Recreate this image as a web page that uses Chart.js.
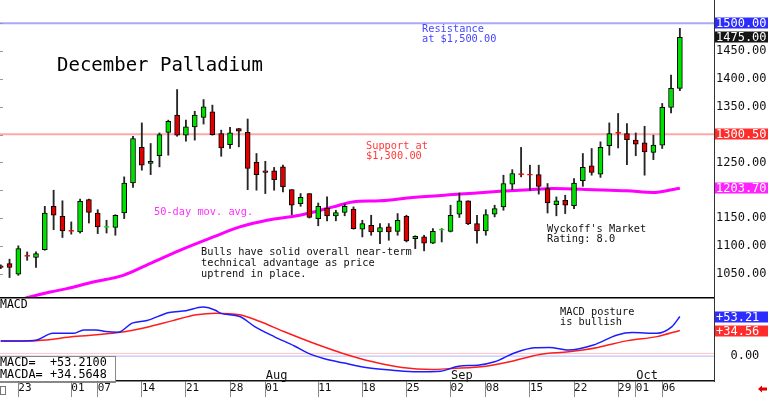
<!DOCTYPE html>
<html>
<head>
<meta charset="utf-8">
<script src="https://cdn.jsdelivr.net/npm/chart.js@4.4.1/dist/chart.umd.min.js"></script>
<style>
  html, body { margin: 0; padding: 0; background: #fff; overflow: hidden; }
  #wrap { position: relative; width: 768px; height: 397px; }
  #priceChart { position: absolute; left: 0; top: 0; }
  #macdChart { position: absolute; left: 0; top: 297px; }
</style>
</head>
<body>
<div id="wrap">
  <canvas id="priceChart" width="768" height="297"></canvas>
  <canvas id="macdChart" width="768" height="100"></canvas>
</div>
<script>
// trading days shown on the chart
const dates = ['Jun 19','Jun 20','Jun 23','Jun 24','Jun 25','Jun 26','Jun 27','Jun 30',
  'Jul 01','Jul 02','Jul 03','Jul 07','Jul 08','Jul 09','Jul 10','Jul 11','Jul 14','Jul 15','Jul 16','Jul 17','Jul 18',
  'Jul 21','Jul 22','Jul 23','Jul 24','Jul 25','Jul 28','Jul 29','Jul 30','Jul 31',
  'Aug 01','Aug 04','Aug 05','Aug 06','Aug 07','Aug 08','Aug 11','Aug 12','Aug 13','Aug 14','Aug 15',
  'Aug 18','Aug 19','Aug 20','Aug 21','Aug 22','Aug 25','Aug 26','Aug 27','Aug 28','Aug 29',
  'Sep 02','Sep 03','Sep 04','Sep 05','Sep 08','Sep 09','Sep 10','Sep 11','Sep 12','Sep 15','Sep 16','Sep 17','Sep 18','Sep 19',
  'Sep 22','Sep 23','Sep 24','Sep 25','Sep 26','Sep 29','Sep 30',
  'Oct 01','Oct 02','Oct 03','Oct 06','Oct 07','Oct 08'];

// daily OHLC
const open  = [1064,1068,1049,1083,1079,1093,1171,1153,1128,1125, 1183,1159,1133,1133,1159,1213,1277,1248,1262,1304,
               1335,1299,1314,1331,1341,1302,1282,1311,1304,1250, 1235,1235,1242,1201,1176,1194,1149,1168,1154,1160,
               1166,1130,1137,1125,1134,1126,1153,1113,1116,1105, 1128,1126,1157,1181,1140,1127,1157,1170,1211,1230,
               1229,1228,1203,1174,1182,1172,1217,1244,1229,1280, 1304,1302,1290,1285,1268,1281,1349,1383];
const high  = [1066,1076,1100,1089,1089,1171,1200,1181,1143,1184, 1184,1165,1146,1156,1224,1297,1321,1284,1303,1326,
               1381,1326,1342,1363,1353,1308,1313,1311,1328,1266, 1252,1241,1245,1201,1194,1194,1177,1188,1164,1175,
               1170,1146,1155,1140,1140,1158,1155,1118,1119,1131, 1131,1173,1195,1181,1155,1165,1173,1227,1237,1277,
               1245,1245,1212,1188,1191,1221,1266,1275,1287,1321, 1338,1320,1303,1315,1299,1356,1407,1491];
const low   = [1059,1043,1047,1074,1061,1092,1129,1115,1121,1123, 1141,1122,1123,1119,1149,1205,1236,1228,1242,1263,
               1297,1288,1290,1319,1299,1261,1275,1278,1201,1200, 1194,1200,1197,1156,1171,1150,1136,1145,1145,1154,
               1130,1116,1119,1104,1110,1119,1107,1095,1091,1104, 1107,1125,1151,1138,1105,1119,1152,1164,1201,1224,
               1200,1193,1159,1154,1158,1167,1207,1227,1223,1263, 1276,1246,1262,1227,1255,1275,1339,1379];
const close = [1061,1061,1095,1081,1086,1159,1155,1127,1126,1180, 1160,1134,1135,1155,1213,1293,1245,1252,1300,1324,
               1299,1314,1335,1350,1300,1276,1303,1306,1239,1228, 1232,1219,1206,1173,1187,1151,1171,1154,1160,1171,
               1131,1140,1125,1133,1125,1146,1109,1117,1105,1126, 1130,1155,1181,1140,1127,1156,1167,1212,1230,1228,
               1227,1207,1177,1181,1173,1213,1241,1232,1277,1302, 1302,1291,1283,1269,1281,1349,1383,1475];

// 50-day moving average (read at day positions)
const maIdx = [2, 3.3, 5.6, 7.5, 10.5, 13.9, 16.9, 20.3, 24.1, 27.1, 30.2, 33.9, 37.7, 39.9, 43.0, 46.7, 52.1, 56.6, 60.0, 62.6, 67.2, 71.0, 74.0, 75.5, 77.0];
const maVal = [1002, 1008, 1017, 1023, 1035, 1047, 1068, 1092, 1116, 1134, 1146, 1155, 1170, 1179, 1181, 1187, 1193, 1198, 1201, 1203, 1201, 1199, 1196, 1199, 1203.7];

// MACD and its average
const macdIdx = [0, 2.1, 4.1, 5.9, 8.3, 9.4, 10.8, 11.9, 13.3, 14.9, 16.6, 19.1, 21.0, 22.9, 24.4, 24.9, 27.1, 28.8, 31.0, 33.3,
                 34.9, 36.6, 38.8, 41.6, 44.4, 47.2, 49.9, 51.9, 54.1, 56.0, 58.3, 60.5, 62.2, 64.4, 67.2, 69.9, 71.6, 74.4, 76.1, 77.0];
const macdVal = [20.3, 20.3, 21.7, 30.7, 30.7, 35.2, 35.2, 33.0, 32.1, 44.3, 47.9, 58.7, 61.0, 66.0, 61.4, 57.8, 53.3, 39.7, 26.2, 13.6,
                 3.6, -3.2, -9.0, -15.8, -19.0, -21.2, -20.3, -13.6, -12.2, -7.7, 4.5, 11.3, 11.7, 8.1, 14.9, 28.5, 31.6, 30.7, 39.7, 53.21];
const signalIdx = [0, 4.1, 8.3, 13.3, 16.6, 19.4, 22.2, 24.4, 27.1, 29.4, 32.1, 35.5, 38.8, 42.2, 45.5, 48.8, 51.1, 55.0, 57.7, 61.1, 64.4, 67.7, 71.1, 74.4, 77.0];
const signalVal = [20.3, 20.8, 26.2, 31.6, 38.9, 47.4, 55.6, 57.8, 55.6, 46.5, 33.0, 17.2, 3.6, -7.7, -15.4, -18.1, -16.7, -13.6, -7.7, 2.3, 5.9, 11.7, 20.8, 26.2, 34.5648];

const priceTicks = [1050, 1100, 1150, 1250, 1350, 1400, 1450];
const dateTicks = ['Jun 23','Jul 01','Jul 07','Jul 14','Jul 21','Jul 28','Aug 01','Aug 11','Aug 18','Aug 25',
                   'Sep 02','Sep 08','Sep 15','Sep 22','Sep 29','Oct 01','Oct 06'];
const monthTicks = [['Aug 01', 'Aug'], ['Sep 02', 'Sep'], ['Oct 01', 'Oct']];
const resistance = 1500;
const support = 1300.5;
const lastMA = 1203.7;

const xMin = -0.08, xMax = 80.87;
const FONT = '"DejaVu Sans Mono", "Liberation Mono", monospace';

const bodyData = [], wickData = [], bodyFill = [], bodyEdge = [];
for (let i = 0; i < dates.length; i++) {
  const up = close[i] >= open[i];
  const doji = Math.abs(close[i] - open[i]) <= 2;
  bodyData.push({ x: i, y: [Math.min(open[i], close[i]), Math.max(open[i], close[i])] });
  wickData.push({ x: i, y: [low[i], high[i]] });
  bodyFill.push(up ? '#00e000' : '#e00000');
  bodyEdge.push(doji ? (up ? '#40e040' : '#ff2020') : '#000');
}

// axes take a fixed size and no label padding
function fixY(s) { s.width = 54; s.paddingTop = 0; s.paddingBottom = 0; }
function fixX(s) { s.height = 16; s.paddingLeft = 0; s.paddingRight = 0; }

function drawText(ctx, lines, x, y, color, size, step) {
  ctx.fillStyle = color;
  ctx.font = size + 'px ' + FONT;
  ctx.textAlign = 'left';
  ctx.textBaseline = 'middle';
  lines.forEach((s, i) => ctx.fillText(s, x, y + i * step));
}

function valueBox(ctx, x, y, text, bg) {
  const yy = Math.round(y);
  ctx.fillStyle = bg;
  ctx.fillRect(x, yy - 5.5, 768 - x, 11);
  ctx.fillStyle = '#fff';
  ctx.font = '12px ' + FONT;
  ctx.textAlign = 'left';
  ctx.textBaseline = 'middle';
  ctx.fillText(text, x + 1, yy + 0.5);
}

// price pane overlay: labels and notes
const priceOverlay = {
  id: 'priceOverlay',
  afterDraw(chart) {
    const { ctx, chartArea } = chart;
    const y = chart.scales.y;
    ctx.save();
    ctx.strokeStyle = '#999';
    ctx.lineWidth = 1;
    for (let v = 1050; v <= 1500; v += 50) {
      const py = Math.round(y.getPixelForValue(v)) + 0.5;
      ctx.beginPath(); ctx.moveTo(0, py); ctx.lineTo(3, py); ctx.stroke();
    }
    const bx = chartArea.right + 1;
    valueBox(ctx, bx, y.getPixelForValue(resistance), resistance.toFixed(2), '#2c2cff');
    valueBox(ctx, bx, y.getPixelForValue(close[close.length - 1]), close[close.length - 1].toFixed(2), '#151515');
    valueBox(ctx, bx, y.getPixelForValue(support), support.toFixed(2), '#ff2c2c');
    valueBox(ctx, bx, y.getPixelForValue(lastMA), lastMA.toFixed(2), '#ff22ff');

    drawText(ctx, ['December Palladium'], 57, 66, '#000', 19, 0);
    drawText(ctx, ['Resistance', 'at $1,500.00'], 422, 29, '#4646ff', 10.3, 10.3);
    drawText(ctx, ['Support at', '$1,300.00'], 366, 146, '#ff3a3a', 10.3, 10.3);
    drawText(ctx, ['50-day mov. avg.'], 154, 212, '#ff30ff', 10.3, 0);
    drawText(ctx, ['Bulls have solid overall near-term', 'technical advantage as price', 'uptrend in place.'], 201, 252.5, '#111', 10.3, 10.8);
    drawText(ctx, ["Wyckoff's Market", 'Rating: 8.0'], 547, 229.5, '#111', 10.3, 10.3);
    ctx.restore();
  }
};

// MACD pane overlay
const macdOverlay = {
  id: 'macdOverlay',
  afterDraw(chart) {
    const { ctx, chartArea } = chart;
    const x = chart.scales.x, y = chart.scales.y;
    ctx.save();
    ctx.strokeStyle = '#000';
    ctx.lineWidth = 1.5;
    ctx.beginPath(); ctx.moveTo(0, 0.75); ctx.lineTo(chartArea.right, 0.75); ctx.stroke();

    drawText(ctx, ['MACD'], 0, 8.5, '#000', 11.5, 0);
    drawText(ctx, ['MACD posture', 'is bullish'], 560, 15.5, '#111', 10.3, 10.3);
    monthTicks.forEach(([d, name]) => {
      drawText(ctx, [name], x.getPixelForValue(dates.indexOf(d)) + 0.5, 78.5, '#111', 12, 0);
    });

    // readout box
    ctx.fillStyle = '#fff';
    ctx.fillRect(0, 59.5, 116, 24.5);
    ctx.strokeStyle = '#888';
    ctx.lineWidth = 1;
    ctx.strokeRect(-1, 59.5, 116.5, 26);
    drawText(ctx, ['MACD=', 'MACDA='], 0, 66, '#000', 11.8, 11.6);
    drawText(ctx, ['+53.2100', '+34.5648'], 50, 66, '#000', 11.8, 11.6);

    const bx = chartArea.right + 1;
    valueBox(ctx, bx, y.getPixelForValue(53.21), '+53.21', '#2c2cff');
    valueBox(ctx, bx, y.getPixelForValue(34.5648) + 1, '+34.56', '#ff2c2c');

    ctx.strokeStyle = '#777';
    ctx.strokeRect(0.5, 89.5, 5, 8);
    ctx.fillStyle = '#e00000';
    ctx.beginPath();
    ctx.moveTo(758, 92); ctx.lineTo(762, 88.5); ctx.lineTo(762, 90.5); ctx.lineTo(767, 90.5);
    ctx.lineTo(767, 93.5); ctx.lineTo(762, 93.5); ctx.lineTo(762, 95.5); ctx.closePath(); ctx.fill();
    ctx.restore();
  }
};

// Price chart
new Chart(document.getElementById('priceChart'), {
  type: 'bar',
  data: {
    datasets: [
      { label: 'Body', data: bodyData, backgroundColor: bodyFill, borderColor: bodyEdge, borderWidth: 1,
        borderSkipped: false, barThickness: 5, grouped: false, order: 0 },
      { label: 'Range', data: wickData, backgroundColor: '#262626', borderWidth: 0,
        barThickness: 1.2, grouped: false, order: 1 },
      { type: 'line', label: '50-day mov. avg.', data: maIdx.map((v, i) => ({ x: v, y: maVal[i] })),
        borderColor: '#ff00ff', borderWidth: 3, pointRadius: 0, cubicInterpolationMode: 'monotone', order: 2 },
      { type: 'line', label: 'Resistance', data: [{ x: xMin, y: resistance }, { x: xMax, y: resistance }],
        borderColor: '#a8a8ff', borderWidth: 2, pointRadius: 0, order: 3 },
      { type: 'line', label: 'Support', data: [{ x: xMin, y: support }, { x: xMax, y: support }],
        borderColor: '#ffa8a8', borderWidth: 2, pointRadius: 0, order: 4 }
    ]
  },
  options: {
    responsive: false,
    animation: false,
    devicePixelRatio: 1,
    layout: { padding: 0 },
    plugins: { legend: { display: false }, tooltip: { enabled: false } },
    scales: {
      x: { type: 'linear', min: xMin, max: xMax, display: false, offset: false },
      y: {
        position: 'right', min: 1008, max: 1542,
        afterBuildTicks: s => { s.ticks = priceTicks.map(v => ({ value: v })); },
        afterFit: fixY,
        grid: { display: false, drawTicks: false },
        border: { display: true, color: '#333', width: 1 },
        ticks: { autoSkip: false, padding: 2, color: '#111', font: { family: FONT, size: 12 },
                 callback: v => Number(v).toFixed(2) }
      }
    }
  },
  plugins: [priceOverlay]
});

// MACD chart
new Chart(document.getElementById('macdChart'), {
  type: 'line',
  data: {
    datasets: [
      { label: 'MACD', data: macdIdx.map((v, i) => ({ x: v, y: macdVal[i] })), borderColor: '#1c1cff',
        borderWidth: 1.5, pointRadius: 0, cubicInterpolationMode: 'monotone', order: 0 },
      { label: 'MACDA', data: signalIdx.map((v, i) => ({ x: v, y: signalVal[i] })), borderColor: '#ff1c1c',
        borderWidth: 1.5, pointRadius: 0, cubicInterpolationMode: 'monotone', order: 1 },
      { label: 'zero', data: [{ x: xMin, y: 0 }, { x: xMax, y: 0 }], borderColor: '#b4b4ff',
        borderWidth: 1, pointRadius: 0, order: 2 },
      { label: 'ref', data: [{ x: xMin, y: 3.6 }, { x: xMax, y: 3.6 }], borderColor: '#ffc4c4',
        borderWidth: 1, pointRadius: 0, order: 3 }
    ]
  },
  options: {
    responsive: false,
    animation: false,
    devicePixelRatio: 1,
    layout: { padding: 0 },
    plugins: { legend: { display: false }, tooltip: { enabled: false } },
    scales: {
      x: {
        type: 'linear', min: xMin, max: xMax, offset: false,
        afterBuildTicks: s => { s.ticks = dateTicks.map(d => ({ value: dates.indexOf(d) })); },
        afterFit: fixX,
        grid: { drawOnChartArea: false, drawTicks: true, tickLength: 16, color: '#888', offset: false },
        border: { display: true, color: '#111', width: 1.5 },
        ticks: { autoSkip: false, maxRotation: 0, align: 'start', padding: -15, color: '#111',
                 font: { family: FONT, size: 11 }, callback: v => dates[v].split(' ')[1] }
      },
      y: {
        position: 'right', min: -33.5, max: 79.5,
        afterBuildTicks: s => { s.ticks = [{ value: 0 }]; },
        afterFit: fixY,
        grid: { display: false, drawTicks: false },
        border: { display: true, color: '#333', width: 1 },
        ticks: { padding: 2, color: '#111', font: { family: FONT, size: 12 },
                 callback: v => '  ' + Number(v).toFixed(2) }
      }
    }
  },
  plugins: [macdOverlay]
});
</script>
</body>
</html>
